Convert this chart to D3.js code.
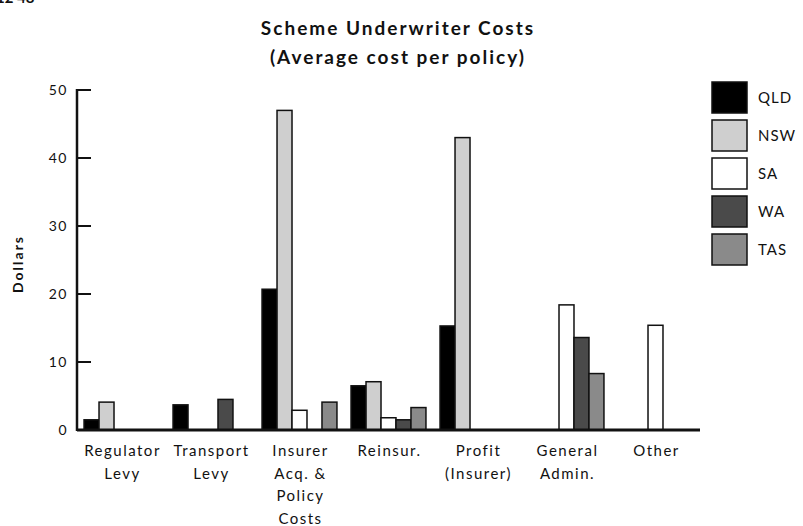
<!DOCTYPE html>
<meta charset="utf-8">
<style>
  body { margin: 0; background: #fff; }
  text { font-family: Lato, "Open Sans", sans-serif; fill: #111; }
</style>
<svg width="803" height="526"></svg>
<script src="https://d3js.org/d3.v7.min.js"></script>
<script>

    var categories = [
        ["Regulator", "Levy"],
        ["Transport", "Levy"],
        ["Insurer", "Acq. &", "Policy", "Costs"],
        ["Reinsur."],
        ["Profit", "(Insurer)"],
        ["General", "Admin."],
        ["Other"]
    ];
    var states = ["QLD", "NSW", "SA", "WA", "TAS"];
    var fills = ["#000", "#cfcfcf", "#fff", "#4a4a4a", "#8a8a8a"];

    // dollars per policy, one array per state, in category order
    var qld = [1.5, 3.7, 20.7, 6.5, 15.3, 0, 0];
    var nsw = [4.1, 0, 47.0, 7.1, 43.0, 0, 0];
    var sa  = [0, 0, 2.9, 1.8, 0, 18.4, 15.4];
    var wa  = [0, 4.5, 0, 1.5, 0, 13.6, 0];
    var tas = [0, 0, 4.1, 3.3, 0, 8.3, 0];
    var series = [qld, nsw, sa, wa, tas];

    var yTicks = [0, 10, 20, 30, 40, 50];

    var svg = d3.select("svg");
    var plotL = 77, plotR = 700, plotT = 90, plotB = 430;

    var x = d3.scaleBand()
            .domain(d3.range(categories.length))
            .range([plotL, plotR])
            .paddingInner(0).paddingOuter(0);

    var xs = d3.scaleBand()
            .domain(states)
            .range([0, x.bandwidth()])
            .paddingOuter(0.47);

    var y = d3.scaleLinear()
            .domain([0, 50])
            .range([plotB, plotT]);

    // bit of the page above, clipped at the top edge
    svg.append("text").attr("x", -4).attr("y", 3)
        .style("font-weight", "bold").style("font-size", "15px")
        .text("12 48");

    // title
    svg.append("text").attr("x", 398).attr("y", 35)
        .attr("text-anchor", "middle")
        .style("font-weight", "bold").style("font-size", "19px")
        .style("letter-spacing", "2px")
        .text("Scheme Underwriter Costs");
    svg.append("text").attr("x", 398).attr("y", 64)
        .attr("text-anchor", "middle")
        .style("font-weight", "bold").style("font-size", "19px")
        .style("letter-spacing", "2px")
        .text("(Average cost per policy)");

    // bars
    var g = svg.append("g");
    series.forEach(function(vals, si) {
        g.selectAll(".b" + si)
            .data(vals.map(function(v, i) { return {i: i, v: v}; }).filter(function(d) { return d.v > 0; }))
            .enter().append("rect")
            .attr("class", "b" + si)
            .attr("x", function(d) { return x(d.i) + xs(states[si]); })
            .attr("y", function(d) { return y(d.v); })
            .attr("width", xs.bandwidth())
            .attr("height", function(d) { return y(0) - y(d.v); })
            .attr("fill", fills[si])
            .attr("stroke", "#111")
            .attr("stroke-width", 1.5);
    });

    // axes
    svg.append("line").attr("x1", plotL).attr("x2", plotL)
        .attr("y1", y(50) - 1).attr("y2", plotB + 1)
        .attr("stroke", "#111").attr("stroke-width", 2.5);
    svg.append("line").attr("x1", plotL).attr("x2", plotR)
        .attr("y1", plotB).attr("y2", plotB)
        .attr("stroke", "#111").attr("stroke-width", 3);

    svg.selectAll(".ytick").data(yTicks).enter().append("line")
        .attr("x1", plotL).attr("x2", plotL + 14)
        .attr("y1", function(d) { return y(d); })
        .attr("y2", function(d) { return y(d); })
        .attr("stroke", "#111").attr("stroke-width", 2);

    svg.selectAll(".ylab").data(yTicks).enter().append("text")
        .attr("x", 68)
        .attr("y", function(d) { return y(d) + 5; })
        .attr("text-anchor", "end")
        .style("font-size", "14px")
        .style("letter-spacing", "1.5px")
        .text(function(d) { return d; });

    svg.append("text")
        .attr("transform", "translate(23,264) rotate(-90)")
        .attr("text-anchor", "middle")
        .style("font-weight", "bold").style("font-size", "14px")
        .style("letter-spacing", "2px")
        .text("Dollars");

    // category labels
    var cl = svg.selectAll(".cat").data(categories).enter().append("text")
        .attr("text-anchor", "middle")
        .style("font-size", "15px")
        .style("letter-spacing", "1.5px");
    cl.selectAll("tspan").data(function(d, i) { return d.map(function(s) { return {s: s, i: i}; }); })
        .enter().append("tspan")
        .attr("x", function(d) { return x(d.i) + x.bandwidth() / 2 + 1; })
        .attr("y", function(d, j) { return 456 + j * 22.5; })
        .text(function(d) { return d.s; });

    // legend
    var lg = svg.selectAll(".leg").data(states).enter().append("g")
        .attr("transform", function(d, i) { return "translate(712," + (82 + i * 38) + ")"; });
    lg.append("rect").attr("width", 35).attr("height", 31)
        .attr("fill", function(d, i) { return fills[i]; })
        .attr("stroke", "#111").attr("stroke-width", 1.5);
    lg.append("text").attr("x", 46).attr("y", 21)
        .style("font-size", "15px")
        .style("letter-spacing", "1px")
        .text(function(d) { return d; });

</script>
